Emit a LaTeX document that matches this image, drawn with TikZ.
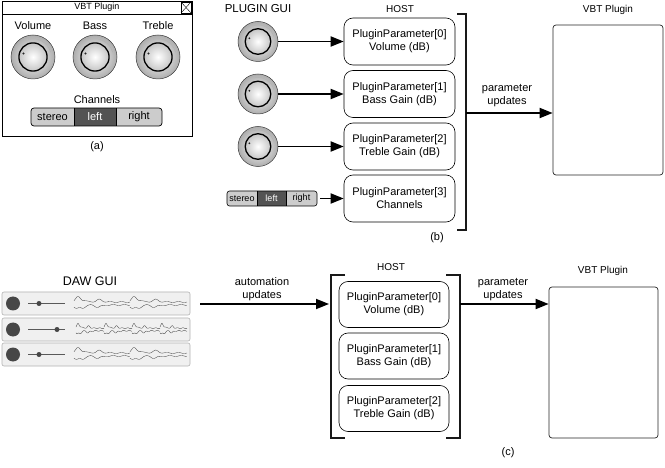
\documentclass[tikz,border=0pt]{standalone}
\usepackage{fontspec}
\setmainfont{Liberation Sans}
\usetikzlibrary{arrows.meta}

% rotary knob, drawn in a unit circle
\tikzset{
  pics/knob/.style={code={
    \shade[inner color=white,outer color=gray!65] (0,0) circle (1);
    \draw[gray!45!black,line width=0.5pt] (0,0) circle (1);
    \draw[gray!60,line width=0.5pt] (15:0.83) arc (15:105:0.83);
    \shade[inner color=white,outer color=gray!45] (0,0) circle (0.64);
    \draw[line width=1.3pt] (0,0) circle (0.64);
    \fill[gray!30!black] (160:0.46) circle (0.05);
  }}
}

% audio waveform burst: start x, length, centre y, amplitude
\newcommand{\wavepart}[4]{%
  \draw[wavecol] plot[domain=0:1,samples=90,smooth] ({#1+#2*\x},{#3-#4*(0.25+0.75*exp(-((\x-0.1)/0.09)*((\x-0.1)/0.09))+0.3*exp(-((\x-0.45)/0.1)*((\x-0.45)/0.1)))*(0.75+0.25*sin(1800*\x))});
  \draw[wavecol] plot[domain=0:1,samples=90,smooth] ({#1+#2*\x},{#3+#4*(0.25+0.75*exp(-((\x-0.1)/0.09)*((\x-0.1)/0.09))+0.3*exp(-((\x-0.45)/0.1)*((\x-0.45)/0.1)))*(0.75+0.25*sin(1800*\x+90))});
}

\begin{document}
\begin{tikzpicture}[x=1pt,y=-1pt,
    lbl/.style={align=center,font=\fontsize{11}{13}\selectfont},
    hostbox/.style={draw,rounded corners=9pt,line width=0.6pt,minimum width=111pt,
      minimum height=47pt,align=center,font=\fontsize{11}{13}\selectfont},
    plugbox/.style={draw=gray!30!black,rounded corners=3pt,line width=0.7pt},
    arr/.style={line width=1.8pt,-{Triangle[length=13pt,width=10pt]}},
    bracketline/.style={line width=1.2pt,gray!20!black},
    knobspot/.style={circle,minimum size=40pt,inner sep=0pt},
    segtext/.style={inner sep=0pt,minimum height=15pt},
    track/.style={draw=gray!60,fill=gray!12,rounded corners=2pt,line width=0.6pt,
      minimum width=188pt,minimum height=23pt,inner sep=0pt},
    wavecol/.style={gray!55!black,line width=0.35pt}]
  \useasboundingbox (0,0) rectangle (665,468);

  % (a) plugin window
  \draw[line width=0.8pt] (2,1) rectangle (192,136);
  \draw[line width=0.8pt] (2,14) -- (192,14);
  \node[font=\fontsize{9}{10}\selectfont] (wintitle) at (97,7.5) {VBT Plugin};
  \draw (181,2) rectangle (191,13);
  \draw (181,2) -- (191,13) (181,13) -- (191,2);

  \node[lbl] (volname) at (33,26) {Volume};
  \node[lbl] (bassname) at (95,26) {Bass};
  \node[lbl] (treblename) at (158,26) {Treble};
  \node[knobspot,minimum size=44pt] (ka0) at (33,57) {};
  \node[knobspot,minimum size=44pt] (ka1) at (95,57) {};
  \node[knobspot,minimum size=44pt] (ka2) at (158,57) {};
  \pic[scale=22,yscale=-1] at (ka0) {knob};
  \pic[scale=22,yscale=-1] at (ka1) {knob};
  \pic[scale=22,yscale=-1] at (ka2) {knob};

  \node[lbl] (channame) at (97,100) {Channels};
  \fill[gray!40,rounded corners=3pt] (31,108) rectangle (162,126);
  \fill[gray!65!black] (74,108) rectangle (116,126);
  \draw[line width=0.6pt] (74,108) -- (74,126) (116,108) -- (116,126);
  \draw[line width=0.7pt,rounded corners=3pt] (31,108) rectangle (162,126);
  \node[segtext,font=\fontsize{11}{13}\selectfont] (stereoa) at (52.5,117) {stereo};
  \node[segtext,font=\fontsize{11}{13}\selectfont,text=white] (lefta) at (95,117) {left};
  \node[segtext,font=\fontsize{11}{13}\selectfont] (righta) at (139,117) {right};
  \node[lbl] (capa) at (97,147) {(a)};

  % (b) plugin gui -> host -> plugin
  \node[font=\fontsize{11.5}{13}\selectfont] (guib) at (258,9) {PLUGIN GUI};
  \node[lbl,font=\fontsize{10}{12}\selectfont] (hostb) at (400,9) {HOST};
  \node[lbl,font=\fontsize{10}{12}\selectfont] (vbtbname) at (608,10) {VBT Plugin};

  \node[hostbox] (hb0) at (399.5,41.5) {PluginParameter[0]\\Volume (dB)};
  \node[hostbox] (hb1) at (399.5,94) {PluginParameter[1]\\Bass Gain (dB)};
  \node[hostbox] (hb2) at (399.5,146.5) {PluginParameter[2]\\Treble Gain (dB)};
  \node[hostbox] (hb3) at (399.5,198.5) {PluginParameter[3]\\Channels};

  \node[knobspot] (kb0) at (258,41.5) {};
  \node[knobspot] (kb1) at (258,94) {};
  \node[knobspot] (kb2) at (258,146.5) {};
  \pic[scale=20,yscale=-1] at (kb0) {knob};
  \pic[scale=20,yscale=-1] at (kb1) {knob};
  \pic[scale=20,yscale=-1] at (kb2) {knob};

  \fill[gray!40,rounded corners=2.5pt] (227,191) rectangle (317,206);
  \fill[gray!65!black] (257,191) rectangle (286,206);
  \draw[line width=0.5pt] (257,191) -- (257,206) (286,191) -- (286,206);
  \draw[line width=0.6pt,rounded corners=2.5pt] (227,191) rectangle (317,206);
  \node[segtext,minimum width=30pt,font=\fontsize{9}{10}\selectfont] (stereob) at (242,198.5) {stereo};
  \node[segtext,minimum width=29pt,font=\fontsize{9}{10}\selectfont,text=white] (leftb) at (271.5,198.5) {left};
  \node[segtext,minimum width=31pt,font=\fontsize{9}{10}\selectfont] (rightb) at (301.5,198.5) {right};

  \draw[arr] (kb0.east) -- (hb0.west);
  \draw[arr] (kb1.east) -- (hb1.west);
  \draw[arr] (kb2.east) -- (hb2.west);
  \draw[arr,shorten <=3pt] (rightb.east) -- (hb3.west);

  \draw[bracketline] (457,14) -- (466,14) -- (466,230) -- (457,230);
  \coordinate (hostbr) at (466,113);
  \node[plugbox,minimum width=110pt,minimum height=150pt] (vbtb) at (608,100) {};
  \draw[arr] (hostbr) -- (hostbr -| vbtb.west);
  \node[lbl] (updb) at (507,95.5) {parameter\\updates};
  \node[lbl] (capb) at (437,238) {(b)};

  % (c) daw gui -> host -> plugin
  \node[font=\fontsize{12.5}{14}\selectfont] (dawname) at (90,281) {DAW GUI};
  \node[track] (tr1) at (96,303.5) {};
  \node[track] (tr2) at (96,329.5) {};
  \node[track] (tr3) at (96,354.5) {};
  \fill[black!72] (13,303.5) circle (7) (13,329.5) circle (7) (13,354.5) circle (7);
  \draw[black!65,line width=0.7pt] (28,303.5) -- (65,303.5) (28,329.5) -- (65,329.5) (28,354.5) -- (65,354.5);
  \fill[black!72] (39,303.5) circle (2.5) (57,329.5) circle (2.5) (39,354.5) circle (2.5);
  \wavepart{74}{56}{303.5}{8}
  \wavepart{130}{57}{303.5}{8}
  \wavepart{76}{28}{329.5}{7}
  \wavepart{104}{28}{329.5}{7}
  \wavepart{132}{28}{329.5}{7}
  \wavepart{160}{27}{329.5}{7}
  \wavepart{74}{56}{354.5}{8}
  \wavepart{130}{57}{354.5}{8}

  \node[lbl,font=\fontsize{10}{12}\selectfont] (hostc) at (391,267) {HOST};
  \draw[bracketline] (345,275) -- (331,275) -- (331,438) -- (345,438);
  \draw[bracketline] (446,275) -- (460,275) -- (460,438) -- (446,438);
  \node[hostbox,minimum width=110pt,minimum height=46pt] (hc0) at (394,304.5) {PluginParameter[0]\\Volume (dB)};
  \node[hostbox,minimum width=110pt,minimum height=46pt] (hc1) at (394,356) {PluginParameter[1]\\Bass Gain (dB)};
  \node[hostbox,minimum width=110pt,minimum height=46pt] (hc2) at (394,408.5) {PluginParameter[2]\\Treble Gain (dB)};

  \coordinate (dawout) at (200,304);
  \coordinate (hostcl) at (331,304);
  \coordinate (hostcr) at (460,304);
  \draw[arr,shorten >=2pt] (dawout) -- (hostcl);
  \node[lbl] (autoc) at (262,289.5) {automation\\updates};

  \node[lbl,font=\fontsize{10}{12}\selectfont] (vbtcname) at (603,271) {VBT Plugin};
  \node[plugbox,minimum width=109pt,minimum height=151pt] (vbtc) at (603.5,362.5) {};
  \draw[arr] (hostcr) -- (hostcr -| vbtc.west);
  \node[lbl] (updc) at (503,289.5) {parameter\\updates};
  \node[lbl] (capc) at (508,453) {(c)};
\end{tikzpicture}
\end{document}
